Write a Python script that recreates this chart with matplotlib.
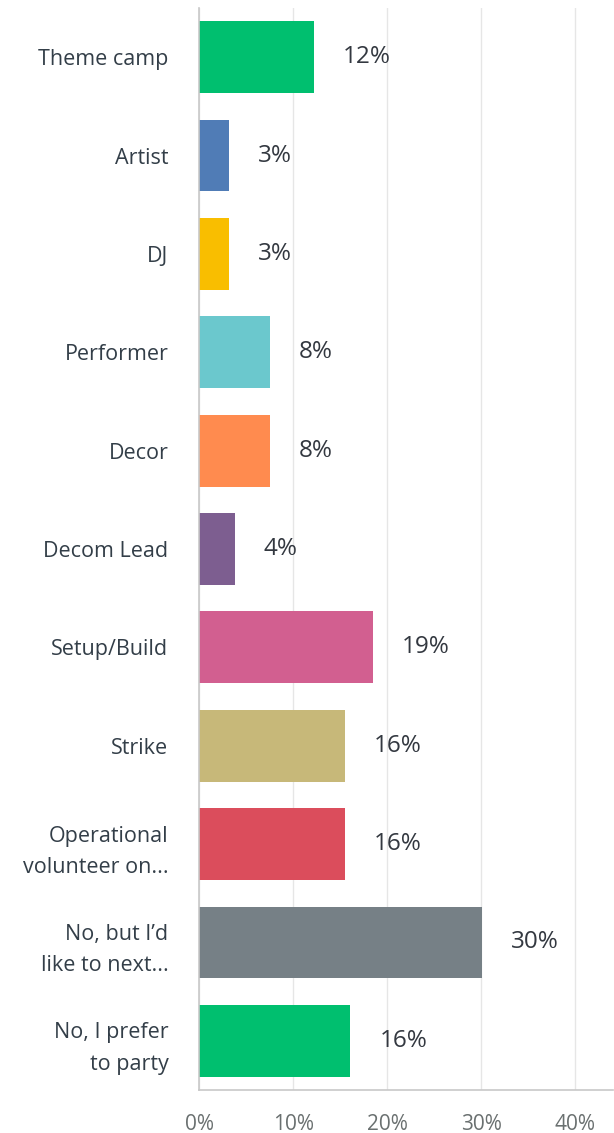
import matplotlib.pyplot as plt
import matplotlib.ticker as ticker

# survey answers, top to bottom
categories = ['Theme camp', 'Artist', 'DJ', 'Performer', 'Decor', 'Decom Lead',
              'Setup/Build', 'Strike', 'Operational\nvolunteer on...',
              'No, but I\u2019d\nlike to next...', 'No, I prefer\nto party']
values = [12.2, 3.2, 3.2, 7.5, 7.5, 3.8, 18.5, 15.5, 15.5, 30.1, 16.1]
value_labels = ['12%', '3%', '3%', '8%', '8%', '4%', '19%', '16%', '16%', '30%', '16%']
colors = ['#00BF6F', '#507CB6', '#F9BE00', '#6BC8CD', '#FF8B4F', '#7D5E90',
          '#D25F90', '#C7B879', '#DB4D5C', '#768086', '#00BF6F']
x_ticks = [0, 10, 20, 30, 40]

plt.rcParams['font.family'] = ['Open Sans', 'DejaVu Sans']

fig = plt.figure(figsize=(6.14, 11.33), dpi=100)
ax = fig.add_axes([199 / 614, 43 / 1133, 414 / 614, 1082 / 1133])

pos = list(range(len(categories)))
ax.barh(pos, values, height=0.73, color=colors, zorder=2)
ax.set_ylim(len(categories) - 0.5, -0.5)
ax.set_xlim(0, 44)

for p, v, lab in zip(pos, values, value_labels):
    ax.annotate(lab, (v, p), xytext=(21, 0), textcoords='offset points',
                va='center', ha='left', fontsize=17.5, color='#333840')

ax.set_yticks(pos)
ax.set_yticklabels(categories, fontsize=15.5, color='#333e48', linespacing=1.65)
ax.tick_params(axis='y', length=0, pad=22)
ax.set_xticks(x_ticks)
ax.xaxis.set_major_formatter(ticker.FuncFormatter(lambda x, p: '%d%%' % x))
ax.tick_params(axis='x', length=0, pad=17, labelsize=15, labelcolor='#6a7070')

ax.grid(axis='x', color='#e6e6e6', linewidth=1, zorder=0)
for s in ['top', 'right']:
    ax.spines[s].set_visible(False)
for s in ['left', 'bottom']:
    ax.spines[s].set_color('#c8c8c8')
    ax.spines[s].set_linewidth(1.2)

fig.savefig('out.png', dpi=100)
